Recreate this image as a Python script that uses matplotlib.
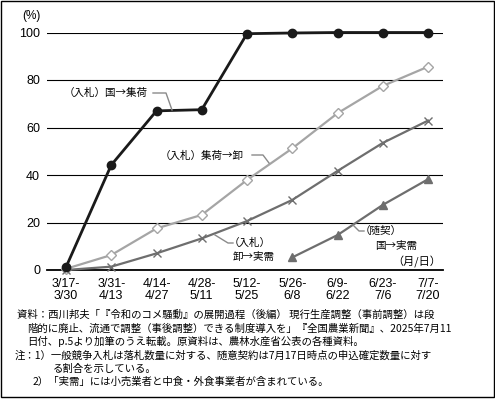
import matplotlib
matplotlib.use("Agg")
import matplotlib.pyplot as plt
from matplotlib.lines import Line2D
from matplotlib.patches import Rectangle

# ---- data ----
periods = ["3/17-\n3/30", "3/31-\n4/13", "4/14-\n4/27", "4/28-\n5/11", "5/12-\n5/25",
           "5/26-\n6/8", "6/9-\n6/22", "6/23-\n7/6", "7/7-\n7/20"]
koku_shuka = [1.2, 44.2, 67.0, 67.5, 99.5, 99.8, 100.0, 100.0, 100.0]
shuka_oroshi = [0.5, 6.3, 17.5, 23.2, 37.9, 51.2, 66.0, 77.5, 85.6]
oroshi_jitsuju = [0.0, 1.4, 7.0, 13.3, 20.6, 29.5, 41.7, 53.5, 62.9]
zuikei_idx = [5, 6, 7, 8]
zuikei_koku_jitsuju = [5.3, 14.7, 27.4, 38.2]
yticks = [0, 20, 40, 60, 80, 100]

W, H = 495, 399
JP = ['Noto Sans CJK JP', 'DejaVu Sans']
NUM = ['Liberation Sans', 'DejaVu Sans']

fig = plt.figure(figsize=(W / 100, H / 100), dpi=100)

def fx(x):
    return x / W

def fy(y):
    return 1 - y / H

# axes: x from 47 to 443 px, y 0 -> 270 px, 100 -> 32.5 px
ax_l, ax_r, ax_b, ax_t = 47, 443, 270, 32.5
ax = fig.add_axes([fx(ax_l), fy(ax_b), (ax_r - ax_l) / W, (ax_b - ax_t) / H])
x0px, x8px = 66, 428
step = (x8px - x0px) / 8
ax.set_xlim(-(x0px - ax_l) / step, 8 + (ax_r - x8px) / step)
ax.set_ylim(0, 100)

for s in ["top", "right", "left"]:
    ax.spines[s].set_visible(False)
ax.spines["bottom"].set_linewidth(1.3)
ax.spines["bottom"].set_color("black")
ax.set_yticks(yticks)
ax.set_yticklabels([str(v) for v in yticks], fontfamily=NUM, fontsize=9)
ax.tick_params(axis="y", length=0, pad=5)
ax.set_xticks(range(len(periods)))
ax.set_xticklabels(periods, fontfamily=NUM, fontsize=9, linespacing=0.95)
ax.tick_params(axis="x", length=0, pad=6)
ax.grid(axis="y", color="black", linewidth=0.8)
ax.set_axisbelow(True)

xs = list(range(len(periods)))
ax.plot(xs, shuka_oroshi, color="#a5a5a5", lw=1.6, marker="D", ms=5.5,
        mfc="white", mec="#a5a5a5", mew=1.0, clip_on=False, zorder=3)
ax.plot(xs, oroshi_jitsuju, color="#6e6e6e", lw=1.6, marker="x", ms=6,
        mec="#6e6e6e", mew=1.0, clip_on=False, zorder=3)
ax.plot(zuikei_idx, zuikei_koku_jitsuju, color="#6e6e6e", lw=1.6, marker="^", ms=6,
        mfc="#6e6e6e", mec="#6e6e6e", clip_on=False, zorder=3)
ax.plot(xs, koku_shuka, color="#1a1a1a", lw=2.0, marker="o", ms=6,
        mfc="#1a1a1a", mec="#1a1a1a", clip_on=False, zorder=4)

# ---- texts ----
fig.text(fx(22), fy(16), "(%)", fontfamily=NUM, fontsize=8.5, va="center", ha="left")
fig.text(fx(441), fy(262), "（月/日）", fontfamily=JP, fontsize=8, va="center", ha="right")

def label(x, y, s, ha="left"):
    fig.text(fx(x), fy(y), s, fontfamily=JP, fontsize=7.6, va="center", ha=ha)

def leader(pts):
    fig.add_artist(Line2D([fx(p[0]) for p in pts], [fy(p[1]) for p in pts],
                          color="#8a8a8a", lw=1.0))

label(64, 93, "（入札）国→集荷")
leader([(153, 93), (166, 93), (172, 110)])
label(160, 156, "（入札）集荷→卸")
leader([(252, 155), (263, 155), (269, 163)])
label(229, 243, "（入札）")
label(233, 257, "卸→実需")
leader([(215, 235), (228, 243), (233, 243)])
label(360, 231, "（随契）")
label(375, 246, "国→実需")
leader([(353, 225), (359, 231), (364, 231)])

notes = [
    (17, "資料：西川邦夫「『令和のコメ騒動』の展開過程（後編） 現行生産調整（事前調整）は段"),
    (27, "階的に廃止、流通で調整（事後調整）できる制度導入を」『全国農業新聞』、2025年7月11"),
    (27, "日付、p.5より加筆のうえ転載。原資料は、農林水産省公表の各種資料。"),
    (15, "注：1）一般競争入札は落札数量に対する、随意契約は7月17日時点の申込確定数量に対す"),
    (53, "る割合を示している。"),
    (33, "2）「実需」には小売業者と中食・外食事業者が含まれている。"),
]
for i, (x, s) in enumerate(notes):
    fig.text(fx(x), fy(315 + 13.4 * i), s, fontfamily=JP, fontsize=7.5,
             va="center", ha="left")

fig.add_artist(Rectangle((fx(1), fy(397)), (W - 2) / W, 396 / H, transform=fig.transFigure,
                         fill=False, edgecolor="black", lw=1.0))

fig.savefig("out.png", dpi=100)
